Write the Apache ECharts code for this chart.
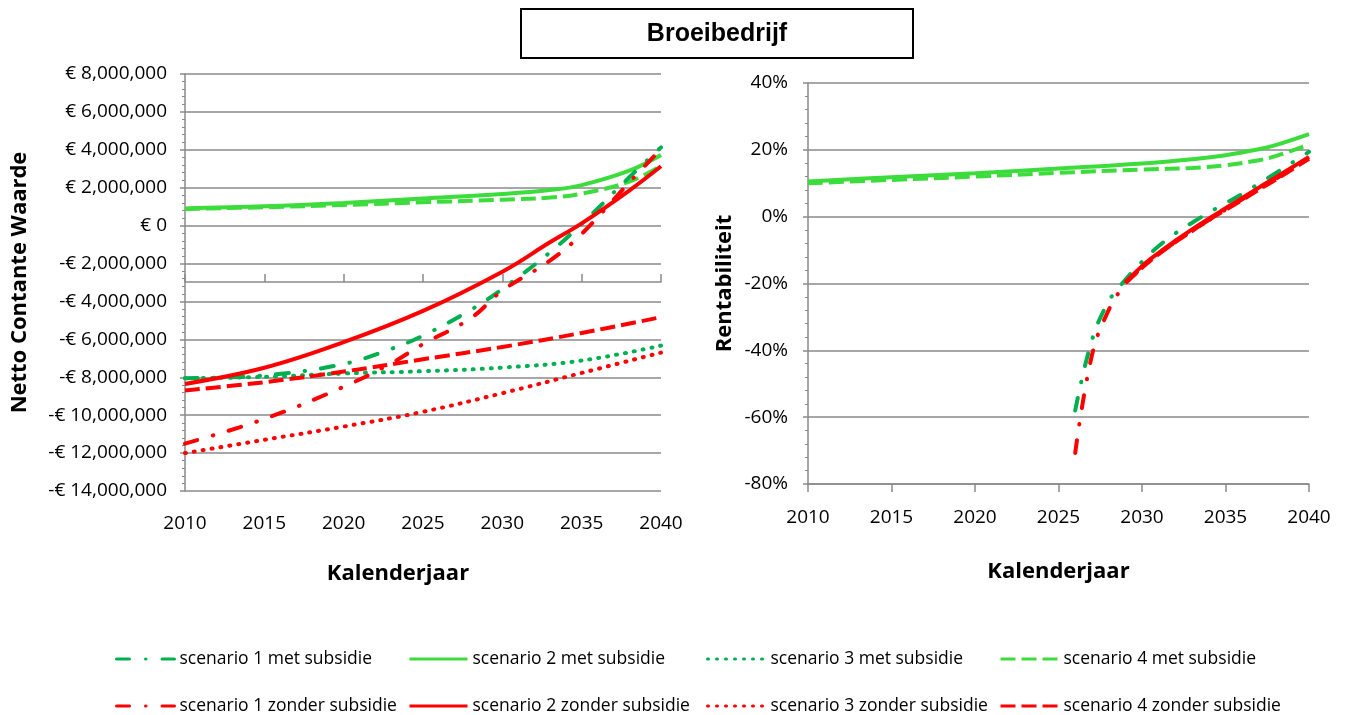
<!DOCTYPE html>
<html>
<head>
<meta charset="utf-8">
<script src="https://cdn.jsdelivr.net/npm/echarts@6.0.0/dist/echarts.min.js"></script>
<style>
html, body { margin: 0; padding: 0; background: #fff; }
#chart { width: 1348px; height: 715px; }
</style>
</head>
<body>
<div id="chart"></div>
<script>
// --- netto contante waarde (miljoen euro) ---
const jaren5 = [2010, 2015, 2020, 2025, 2030, 2035, 2040];
const jarenS1 = [2010, 2015, 2020, 2023, 2025, 2028, 2030, 2033, 2035, 2038, 2040];
const jarenS24 = [2010, 2015, 2020, 2025, 2030, 2033, 2035, 2038, 2040];

const ncwS1Met = [-8.05, -7.9, -7.3, -6.5, -5.8, -4.45, -3.34, -1.41, 0.09, 2.55, 4.13];
const ncwS1Zonder = [-11.5, -10.2, -8.5, -7.26, -6.25, -4.89, -3.43, -1.85, -0.44, 2.28, 4.04];
const ncwS2Met = [0.91, 1.02, 1.2, 1.43, 1.67, 1.88, 2.14, 2.9, 3.73];
const ncwS2Zonder = [-8.35, -7.5, -6.15, -4.5, -2.43, -0.88, 0.12, 1.85, 3.13];
const ncwS3Met = [-8.05, -7.98, -7.8, -7.68, -7.49, -7.12, -6.33];
const ncwS3Zonder = [-12.0, -11.3, -10.6, -9.82, -8.84, -7.77, -6.7];
const ncwS4Met = [0.88, 0.97, 1.09, 1.23, 1.37, 1.48, 1.69, 2.32, 3.16];
const ncwS4Zonder = [-8.7, -8.26, -7.7, -7.05, -6.4, -5.66, -4.83];

// --- rentabiliteit (%) ---
const jarenGroen = [2010, 2015, 2020, 2025, 2030, 2033, 2035, 2037, 2038, 2040];
const jarenS1R = [2026, 2027, 2028, 2029, 2030, 2031, 2032, 2033, 2034, 2035, 2036, 2037, 2038, 2039, 2040];
const jarenRood = [2029, 2030, 2031, 2032, 2033, 2034, 2035, 2036, 2037, 2038, 2039, 2040];

const rentS2Met = [10.5, 11.8, 13.0, 14.4, 15.9, 17.2, 18.4, 20.2, 21.4, 24.7];
const rentS4Met = [10.0, 11.0, 12.0, 13.1, 14.1, 14.6, 15.4, 16.9, 18.1, 21.6];
const rentS1Met = [-58, -37, -25.4, -18.9, -13.5, -8.8, -5.0, -1.8, 1.2, 4.0, 6.8, 9.9, 13.0, 16.2, 19.4];
const rentS1Zonder = [-70.7, -41.5, -28, -20.2, -15.3, -11.2, -7.6, -4.2, -1.0, 2.1, 5.2, 8.3, 11.3, 14.4, 17.5];
const rentS2Zonder = [-19.7, -14.8, -10.8, -7.2, -3.8, -0.6, 2.5, 5.6, 8.7, 11.7, 14.8, 17.9];
const rentS4Zonder = [-19.9, -15.3, -11.2, -7.6, -4.3, -1.0, 2.0, 5.0, 8.1, 11.0, 14.2, 17.3];

const namen = [
  'scenario 1 met subsidie', 'scenario 2 met subsidie', 'scenario 3 met subsidie', 'scenario 4 met subsidie',
  'scenario 1 zonder subsidie', 'scenario 2 zonder subsidie', 'scenario 3 zonder subsidie', 'scenario 4 zonder subsidie'
];

const groenLicht = '#3cdc3c';
const groenDonker = '#00b050';
const rood = '#ff0000';
const grijs = '#8a8a8a';
const font = '"Open Sans", sans-serif';

const stijl = {
  s1: {type: [13, 16, 0.5, 16], width: 4, cap: 'round'},
  s2: {type: 'solid', width: 4},
  s3: {type: [1, 8], width: 4, cap: 'round'},
  s4: {type: [15, 6], width: 4}
};

function paren(jaren, waarden) {
  return jaren.map((j, i) => [j, waarden[i]]);
}

function lijn(naam, kleur, st, jaren, waarden, grid) {
  return {
    name: naam,
    type: 'line',
    xAxisIndex: grid === 0 ? 0 : 2,
    yAxisIndex: grid,
    data: paren(jaren, waarden),
    showSymbol: false,
    symbol: 'none',
    smooth: 0.4,
    color: kleur,
    lineStyle: Object.assign({color: kleur}, st)
  };
}

function euro(v) {
  if (v === 0) return '€ 0';
  const s = Math.abs(v * 1e6).toLocaleString('en-US');
  return (v < 0 ? '-€ ' : '€ ') + s;
}

const labelStijl = {fontFamily: font, fontSize: 19, color: '#000'};
const naamStijl = {fontFamily: font, fontSize: 22, fontWeight: 'bold', color: '#000'};

const yAxisBasis = {
  type: 'value',
  axisLine: {show: true, lineStyle: {color: grijs, width: 1.5}},
  axisTick: {show: true, length: 5, lineStyle: {color: grijs, width: 1.5}},
  minorTick: {show: true, splitNumber: 5, length: 3, lineStyle: {color: grijs, width: 1}},
  splitLine: {show: true, lineStyle: {color: grijs, width: 1.5}},
  nameLocation: 'middle',
  nameRotate: 90,
  nameTextStyle: naamStijl
};

// legenda: 4 kolommen, 2 rijen (met / zonder)
const legendX = [110, 403, 701, 994];
const legendY = [645, 692];

const legends = namen.map((naam, i) => ({
  left: legendX[i % 4],
  top: legendY[Math.floor(i / 4)],
  data: [naam],
  itemWidth: 58,
  itemHeight: 12,
  textStyle: {fontFamily: font, fontSize: 17.5, color: '#000'},
  lineStyle: {width: 3},
  itemStyle: {color: 'rgba(0,0,0,0)', borderWidth: 0}
}));

const option = {
  animation: false,
  backgroundColor: '#fff',
  graphic: [
    {type: 'rect', shape: {x: 521, y: 9, width: 392, height: 49},
      style: {fill: '#fff', stroke: '#000', lineWidth: 2}},
    {type: 'text', x: 717, y: 34,
      style: {text: 'Broeibedrijf', font: 'bold 25px "Liberation Sans", sans-serif', fill: '#000',
        align: 'center', verticalAlign: 'middle'}}
  ],
  legend: legends,
  grid: [
    {left: 185, right: 687, top: 74, bottom: 224},
    {left: 808, right: 39, top: 83, bottom: 231}
  ],
  xAxis: [
    {
      gridIndex: 0, type: 'value', min: 2010, max: 2040, interval: 5,
      axisLine: {show: false}, axisTick: {show: false}, splitLine: {show: false},
      axisLabel: Object.assign({margin: 23, formatter: v => String(v)}, labelStijl),
      name: 'Kalenderjaar', nameLocation: 'middle', nameGap: 72,
      nameTextStyle: Object.assign({padding: [0, 50, 0, 0]}, naamStijl)
    },
    {
      // horizontale as snijdt bij -3.000.000
      gridIndex: 0, type: 'value', min: 2010, max: 2040, interval: 5, offset: -208,
      axisLine: {show: true, lineStyle: {color: grijs, width: 1.5}},
      axisTick: {show: true, length: 8, lineStyle: {color: grijs, width: 1.5}},
      axisLabel: {show: false}, splitLine: {show: false}
    },
    {
      gridIndex: 1, type: 'value', min: 2010, max: 2040, interval: 5,
      axisLine: {show: true, onZero: false, lineStyle: {color: grijs, width: 1.5}},
      axisTick: {show: true, length: 8, lineStyle: {color: grijs, width: 1.5}},
      splitLine: {show: false},
      axisLabel: Object.assign({margin: 24, formatter: v => String(v)}, labelStijl),
      name: 'Kalenderjaar', nameLocation: 'middle', nameGap: 77,
      nameTextStyle: naamStijl
    }
  ],
  yAxis: [
    Object.assign({}, yAxisBasis, {
      gridIndex: 0, min: -14, max: 8, interval: 2,
      axisLabel: Object.assign({margin: 18, formatter: euro}, labelStijl),
      name: 'Netto Contante Waarde', nameGap: 154
    }),
    Object.assign({}, yAxisBasis, {
      gridIndex: 1, min: -80, max: 40, interval: 20,
      axisLabel: Object.assign({margin: 20, formatter: v => v + '%'}, labelStijl),
      name: 'Rentabiliteit', nameGap: 72
    })
  ],
  series: [
    lijn(namen[2], groenDonker, stijl.s3, jaren5, ncwS3Met, 0),
    lijn(namen[6], rood, stijl.s3, jaren5, ncwS3Zonder, 0),
    lijn(namen[3], groenLicht, stijl.s4, jarenS24, ncwS4Met, 0),
    lijn(namen[1], groenLicht, stijl.s2, jarenS24, ncwS2Met, 0),
    lijn(namen[7], rood, stijl.s4, jaren5, ncwS4Zonder, 0),
    lijn(namen[0], groenDonker, stijl.s1, jarenS1, ncwS1Met, 0),
    lijn(namen[4], rood, stijl.s1, jarenS1, ncwS1Zonder, 0),
    lijn(namen[5], rood, stijl.s2, jarenS24, ncwS2Zonder, 0),

    lijn(namen[3], groenLicht, stijl.s4, jarenGroen, rentS4Met, 1),
    lijn(namen[1], groenLicht, stijl.s2, jarenGroen, rentS2Met, 1),
    lijn(namen[0], groenDonker, stijl.s1, jarenS1R, rentS1Met, 1),
    lijn(namen[4], rood, stijl.s1, jarenS1R, rentS1Zonder, 1),
    lijn(namen[7], rood, stijl.s4, jarenRood, rentS4Zonder, 1),
    lijn(namen[5], rood, stijl.s2, jarenRood, rentS2Zonder, 1)
  ]
};

const chart = echarts.init(document.getElementById('chart'));
chart.setOption(option);
</script>
</body>
</html>
